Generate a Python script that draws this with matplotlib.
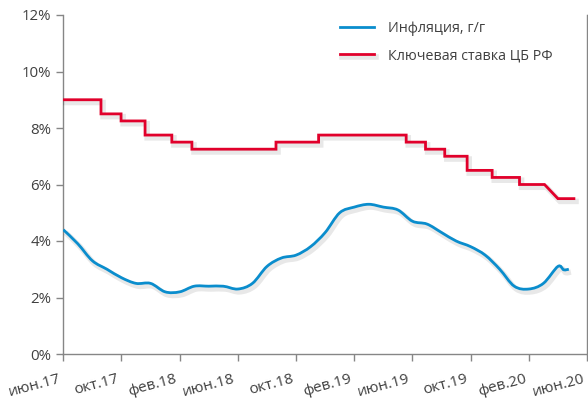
import matplotlib
matplotlib.use("Agg")
import matplotlib.pyplot as plt
import matplotlib.patheffects as pe
from matplotlib.path import Path
from matplotlib.patches import PathPatch
import numpy as np

plt.rcParams['font.family'] = ['Open Sans', 'DejaVu Sans']

# x axis: months since June 2017
tick_pos = [0, 4, 8, 12, 16, 20, 24, 28, 32, 36]
tick_labels = ['июн.17', 'окт.17', 'фев.18', 'июн.18', 'окт.18',
               'фев.19', 'июн.19', 'окт.19', 'фев.20', 'июн.20']

# CPI y/y, monthly (plus two late readings)
infl_x = [0, 1, 2, 3, 4, 5, 6, 7, 8, 9, 10, 11, 12, 13, 14, 15, 16, 17, 18,
          19, 20, 21, 22, 23, 24, 25, 26, 27, 28, 29, 30, 31, 32, 33, 34,
          34.4, 34.75]
infl_y = [4.4, 3.9, 3.3, 3.0, 2.7, 2.5, 2.5, 2.2, 2.2, 2.4, 2.4, 2.4, 2.3,
          2.5, 3.1, 3.4, 3.5, 3.8, 4.3, 5.0, 5.2, 5.3, 5.2, 5.1, 4.7, 4.6,
          4.3, 4.0, 3.8, 3.5, 3.0, 2.4, 2.3, 2.5, 3.1, 2.98, 3.0]

# key rate: change points (month offset) and new level
rate_x = [0, 2.59, 3.97, 5.62, 7.46, 8.84, 14.62, 17.55, 23.57, 24.9,
          26.22, 27.76, 29.48, 31.36, 33.08]
rate_y = [9.0, 8.5, 8.25, 7.75, 7.5, 7.25, 7.5, 7.75, 7.5, 7.25,
          7.0, 6.5, 6.25, 6.0, 5.5]
rate_ramp_end = 34.0   # last change drawn as a slope
rate_end = 35.1

blue = '#0A8DCD'
red = '#E1002B'
grey_txt = '#404040'
grey_ax = '#868686'

fig = plt.figure(figsize=(5.88, 4.03), dpi=100)
ax = fig.add_axes([63.3 / 588, 49 / 403, 523.7 / 588, 339 / 403])

shadow = [pe.SimpleLineShadow(offset=(1.5, -2), shadow_color='k', alpha=0.09, linewidth=4),
          pe.Normal()]

# key rate step line
sx, sy = [rate_x[0]], [rate_y[0]]
for i in range(1, len(rate_x)):
    sx.append(rate_x[i])
    sy.append(rate_y[i - 1])
    if i == len(rate_x) - 1:
        sx.append(rate_ramp_end)
    else:
        sx.append(rate_x[i])
    sy.append(rate_y[i])
sx.append(rate_end)
sy.append(rate_y[-1])
h_rate, = ax.plot(sx, sy, color=red, lw=2.0, solid_joinstyle='miter',
                  path_effects=shadow, label='Ключевая ставка ЦБ РФ', zorder=3)

# smoothed inflation line (Excel-like bezier smoothing)
pts = np.column_stack([infl_x, infl_y])
verts = [pts[0]]
codes = [Path.MOVETO]
n = len(pts)
for i in range(n - 1):
    p0 = pts[max(i - 1, 0)]
    p1 = pts[i]
    p2 = pts[i + 1]
    p3 = pts[min(i + 2, n - 1)]
    verts += [p1 + (p2 - p0) / 6, p2 - (p3 - p1) / 6, p2]
    codes += [Path.CURVE4] * 3
patch = PathPatch(Path(verts, codes), facecolor='none', edgecolor=blue, lw=2.0,
                  path_effects=shadow, zorder=4)
ax.add_patch(patch)
h_infl, = ax.plot([], [], color=blue, lw=2.0, label='Инфляция, г/г')

ax.set_xlim(0, 36)
ax.set_ylim(0, 12)
ax.set_yticks(range(0, 13, 2))
ax.set_yticklabels([f'{v}%' for v in range(0, 13, 2)])
ax.set_xticks(tick_pos)
ax.set_xticklabels([])
# rotated date labels, placed under each tick
for pos, lab in zip(tick_pos, tick_labels):
    ax.annotate(lab, xy=(pos, 0), xycoords=('data', 'axes fraction'),
                xytext=(-5, -18), textcoords='offset pixels',
                rotation=15, rotation_mode='anchor', ha='right', va='top',
                fontsize=11, color=grey_txt, annotation_clip=False)

for s in ['top']:
    ax.spines[s].set_visible(False)
for s in ['left', 'bottom', 'right']:
    ax.spines[s].set_color(grey_ax)
    ax.spines[s].set_linewidth(1.0)
ax.tick_params(axis='both', colors=grey_ax, labelcolor=grey_txt,
               length=5, width=1.0, direction='out')
ax.tick_params(axis='y', labelsize=10.8, right=True, labelright=False)

leg = ax.legend(handles=[h_infl, h_rate], loc='upper left',
                bbox_to_anchor=(0.528, 0.982), frameon=False, fontsize=10.3,
                handlelength=2.4, handletextpad=1.0, labelspacing=0.85,
                borderpad=0, borderaxespad=0)
for t in leg.get_texts():
    t.set_color(grey_txt)

fig.savefig('out.png', dpi=100)
